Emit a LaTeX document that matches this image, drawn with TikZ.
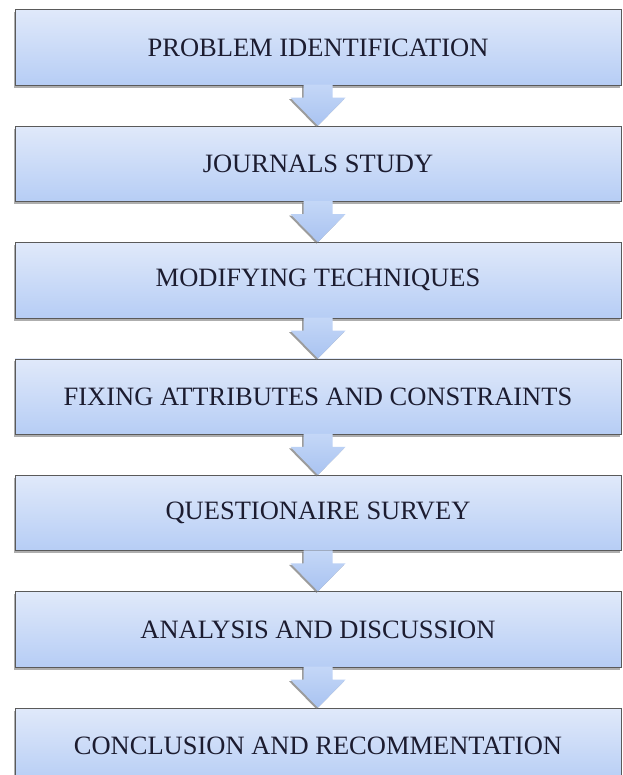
\documentclass[tikz,border=0pt]{standalone}
\usepackage{fontspec}
\setmainfont{Liberation Serif}
\usetikzlibrary{positioning,calc,shadows}

\definecolor{boxtop}{HTML}{E0E9FA}
\definecolor{boxbot}{HTML}{B6CDF5}
\definecolor{arrowtop}{HTML}{C4D7F7}
\definecolor{arrowbot}{HTML}{A9C3F1}
\definecolor{edgegray}{HTML}{5A5A5A}
\definecolor{textnavy}{HTML}{1C1C30}

\tikzset{
  stage/.style={rectangle, draw=edgegray, line width=0.9pt,
    top color=boxtop, bottom color=boxbot,
    minimum width=606pt, minimum height=75.5pt, inner sep=0pt,
    font=\fontsize{26.5}{30}\selectfont, text=textnavy,
    drop shadow={shadow xshift=-1.5pt, shadow yshift=-2.5pt, fill=black!45, opacity=0.7}},
  blockarrow/.style={top color=arrowtop, bottom color=arrowbot,
    drop shadow={shadow xshift=-1.5pt, shadow yshift=-1.5pt, fill=black!55, opacity=0.7},
    to path={($(\tikztostart.south)+(-14.5pt,1pt)$) |- ($(\tikztostart.south)+(-27.5pt,-12pt)$)
      -- (\tikztotarget.north) -- ($(\tikztostart.south)+(27.5pt,-12pt)$)
      -| ($(\tikztostart.south)+(14.5pt,1pt)$) -- cycle}}
}

\begin{document}
\begin{tikzpicture}
    % Frame of the page
    \clip (0,0) rectangle (622pt,-775pt);
    \fill[white] (0,0) rectangle (622pt,-775pt);

    % Stages of the study
    \node[stage] (ident) at (318pt,-47.5pt) {PROBLEM IDENTIFICATION};
    \node[stage, below=40pt of ident] (journal) {JOURNALS STUDY};
    \node[stage, below=40pt of journal] (modify) {MODIFYING TECHNIQUES};
    \node[stage, below=40pt of modify] (attrib) {FIXING ATTRIBUTES AND CONSTRAINTS};
    \node[stage, below=40pt of attrib] (survey) {QUESTIONAIRE SURVEY};
    \node[stage, below=40pt of survey] (analysis) {ANALYSIS AND DISCUSSION};
    \node[stage, below=40pt of analysis] (concl) {CONCLUSION AND RECOMMENTATION};

    % Block arrows between stages
    \path[blockarrow] (ident) to (journal);
    \path[blockarrow] (journal) to (modify);
    \path[blockarrow] (modify) to (attrib);
    \path[blockarrow] (attrib) to (survey);
    \path[blockarrow] (survey) to (analysis);
    \path[blockarrow] (analysis) to (concl);
\end{tikzpicture}
\end{document}
